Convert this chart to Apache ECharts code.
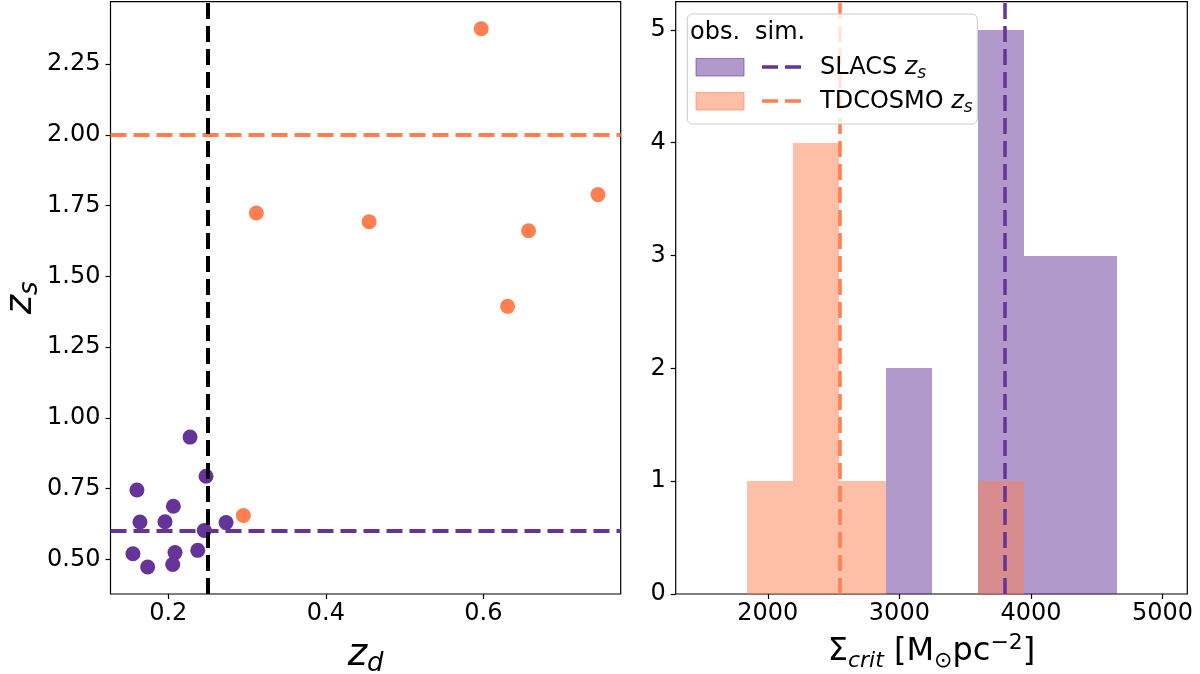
<!DOCTYPE html>
<html><head><meta charset="utf-8">
<script src="https://cdn.jsdelivr.net/npm/echarts@6/dist/echarts.min.js"></script>
<style>html,body{margin:0;padding:0;background:#fff}#c{width:1200px;height:674px}</style>
</head><body><div id="c"></div>
<script>
// ---- data ----
const slacsZd = [0.2276,0.2479,0.1602,0.2064,0.1640,0.1958,0.2457,0.2733,0.1551,0.2085,0.2374,0.1738,0.2056];
const slacsZs = [0.932,0.794,0.745,0.688,0.632,0.633,0.602,0.630,0.520,0.524,0.532,0.473,0.482];
const tdcZd = [0.2953,0.5973,0.3118,0.4550,0.6574,0.6308,0.7456];
const tdcZs = [0.655,2.375,1.724,1.693,1.661,1.394,1.789];
const simSlacsZs = 0.6;
const simTdcZs = 2.0;
const zdCut = 0.25;
const binEdges = [1840, 2192, 2543, 2895, 3247, 3598, 3950, 4302, 4654];
const slacsCounts = [0, 0, 0, 2, 0, 5, 3, 3];
const tdcCounts = [1, 4, 1, 0, 0, 1, 0, 0];
const slacsSigmaSim = 3798;
const tdcSigmaSim = 2548;
const leftXTicks = [0.2, 0.4, 0.6];
const leftYTicks = [0.5, 0.75, 1.0, 1.25, 1.5, 1.75, 2.0, 2.25];
const rightXTicks = [2000, 3000, 4000, 5000];
const rightYTicks = [0, 1, 2, 3, 4, 5];

const PURPLE = '#663399', CORAL = '#ff7f50';
const FONT = 'DejaVu Sans';

const chart = echarts.init(document.getElementById('c'), null, {renderer: 'canvas'});

function zip(a, b) { return a.map((v, i) => [v, b[i]]); }
function histData(counts) { return counts.map((c, i) => [binEdges[i], binEdges[i + 1], c]); }
function histItem(color) {
  return function (params, api) {
    const h = api.value(2);
    if (!h) return null;
    const p0 = api.coord([api.value(0), h]);
    const p1 = api.coord([api.value(1), 0]);
    const x0 = Math.round(p0[0]), x1 = Math.round(p1[0]);
    const y0 = Math.round(p0[1]), y1 = p1[1];
    return {type: 'rect', shape: {x: x0, y: y0, width: x1 - x0, height: y1 - y0},
            style: {fill: color, opacity: 0.5}};
  };
}

const tickStyle = {show: true, inside: false, length: 5, lineStyle: {color: '#000', width: 1.2}};
const labelBase = {color: '#000', fontSize: 24, fontFamily: FONT};
const mathRich = {
  zi: {fontSize: 37, fontStyle: 'italic', fontFamily: FONT, color: '#000', lineHeight: 44},
  sb: {fontSize: 26, fontStyle: 'italic', fontFamily: FONT, color: '#000', lineHeight: 24, verticalAlign: 'bottom'}
};
const sigmaRich = {
  r: {fontSize: 32, fontFamily: FONT, color: '#000', lineHeight: 40},
  si: {fontSize: 22, fontStyle: 'italic', fontFamily: FONT, color: '#000', lineHeight: 22, verticalAlign: 'bottom'},
  sr: {fontSize: 22, fontFamily: FONT, color: '#000', lineHeight: 22, verticalAlign: 'bottom'},
  sp: {fontSize: 22, fontFamily: FONT, color: '#000', lineHeight: 22, verticalAlign: 'top'}
};

const dash = [16, 7];

const option = {
  animation: false,
  backgroundColor: '#fff',
  grid: [
    {left: 110.5, top: 1.7, width: 510.2, height: 592.3, show: true, borderColor: '#000', borderWidth: 1.2,
     backgroundColor: 'transparent', containLabel: false, outerBoundsMode: 'none'},
    {left: 675.7, top: 1.7, width: 511.6, height: 592.3, show: true, borderColor: '#000', borderWidth: 1.2,
     backgroundColor: 'transparent', containLabel: false, outerBoundsMode: 'none'}
  ],
  xAxis: [
    {type: 'value', gridIndex: 0, min: 0.1266, max: 0.7744,
     axisLine: {show: false}, splitLine: {show: false},
     axisTick: Object.assign({customValues: leftXTicks}, tickStyle),
     axisLabel: Object.assign({customValues: leftXTicks, margin: 8, formatter: v => v.toFixed(1)}, labelBase),
     name: '{zi|z}{sb|d}', nameLocation: 'middle', nameGap: 39,
     nameTextStyle: {rich: mathRich}},
    {type: 'value', gridIndex: 1, min: 1300, max: 5188,
     axisLine: {show: false}, splitLine: {show: false},
     axisTick: Object.assign({customValues: rightXTicks}, tickStyle),
     axisLabel: Object.assign({customValues: rightXTicks, margin: 8, formatter: v => String(v)}, labelBase),
     name: '{r|Σ}{si|crit}{r| [M}{sr|⊙}{r|pc}{sp|−2}{r|]}', nameLocation: 'middle', nameGap: 38,
     nameTextStyle: {rich: sigmaRich}}
  ],
  yAxis: [
    {type: 'value', gridIndex: 0, min: 0.3777, max: 2.4705,
     axisLine: {show: false}, splitLine: {show: false},
     axisTick: Object.assign({customValues: leftYTicks}, tickStyle),
     axisLabel: Object.assign({customValues: leftYTicks, margin: 10, formatter: v => v.toFixed(2)}, labelBase),
     name: '{zi|z}{sb|s}', nameLocation: 'middle', nameGap: 58, nameRotate: 90,
     nameTextStyle: {rich: mathRich}},
    {type: 'value', gridIndex: 1, min: 0, max: 5.25,
     axisLine: {show: false}, splitLine: {show: false},
     axisTick: Object.assign({customValues: rightYTicks}, tickStyle),
     axisLabel: Object.assign({customValues: rightYTicks, margin: 10, formatter: v => String(v)}, labelBase)}
  ],
  series: [
    {type: 'scatter', xAxisIndex: 0, yAxisIndex: 0, data: zip(slacsZd, slacsZs),
     symbol: 'circle', symbolSize: 15, itemStyle: {color: PURPLE, opacity: 1}, z: 2,
     markLine: {silent: true, symbol: ['none', 'none'], label: {show: false}, animation: false,
       data: [
         {yAxis: simSlacsZs, lineStyle: {color: PURPLE, width: 4, type: dash}},
         {yAxis: simTdcZs, lineStyle: {color: CORAL, width: 4, type: dash}},
         {xAxis: zdCut, lineStyle: {color: '#000', width: 4, type: dash}}
       ]}},
    {type: 'scatter', xAxisIndex: 0, yAxisIndex: 0, data: zip(tdcZd, tdcZs),
     symbol: 'circle', symbolSize: 15, itemStyle: {color: CORAL, opacity: 1}, z: 2},
    {type: 'custom', xAxisIndex: 1, yAxisIndex: 1, data: histData(slacsCounts),
     encode: {x: [0, 1], y: 2}, renderItem: histItem(PURPLE), z: 2},
    {type: 'custom', xAxisIndex: 1, yAxisIndex: 1, data: histData(tdcCounts),
     encode: {x: [0, 1], y: 2}, renderItem: histItem(CORAL), z: 2,
     markLine: {silent: true, symbol: ['none', 'none'], label: {show: false}, animation: false,
       data: [
         {xAxis: slacsSigmaSim, lineStyle: {color: PURPLE, width: 3.5, type: dash}},
         {xAxis: tdcSigmaSim, lineStyle: {color: CORAL, width: 3.5, type: dash}}
       ]}}
  ],
  graphic: [
    {type: 'rect', z: 100, shape: {x: 687.3, y: 14, width: 290, height: 110, r: 5},
     style: {fill: 'rgba(255,255,255,0.8)', stroke: '#cccccc', lineWidth: 1}},
    {type: 'text', z: 101, x: 690, y: 33, style: {text: 'obs.', font: '24px "DejaVu Sans"', fill: '#000', align: 'left', verticalAlign: 'middle', textAlign: 'left', textVerticalAlign: 'middle'}},
    {type: 'text', z: 101, x: 755, y: 33, style: {text: 'sim.', font: '24px "DejaVu Sans"', fill: '#000', align: 'left', verticalAlign: 'middle', textAlign: 'left', textVerticalAlign: 'middle'}},
    {type: 'rect', z: 101, shape: {x: 696, y: 58.5, width: 48, height: 17.5},
     style: {fill: 'rgba(102,51,153,0.5)', stroke: 'rgba(102,51,153,0.6)', lineWidth: 1}},
    {type: 'rect', z: 101, shape: {x: 696, y: 92.5, width: 48, height: 17.5},
     style: {fill: 'rgba(255,127,80,0.5)', stroke: 'rgba(255,127,80,0.6)', lineWidth: 1}},
    {type: 'line', z: 101, shape: {x1: 762, y1: 67, x2: 808, y2: 67},
     style: {stroke: PURPLE, lineWidth: 3.5, lineDash: dash}},
    {type: 'line', z: 101, shape: {x1: 762, y1: 101, x2: 808, y2: 101},
     style: {stroke: CORAL, lineWidth: 3.5, lineDash: dash}},
    {type: 'text', z: 101, x: 820, y: 68, style: {
      text: '{n|SLACS }{i|z}{s|s}', align: 'left', verticalAlign: 'middle', textAlign: 'left', textVerticalAlign: 'middle',
      rich: {n: {font: '24px "DejaVu Sans"', fill: '#000', lineHeight: 28},
             i: {font: 'italic 24px "DejaVu Sans"', fill: '#000', lineHeight: 28},
             s: {font: 'italic 17px "DejaVu Sans"', fill: '#000', lineHeight: 16, verticalAlign: 'bottom'}}}},
    {type: 'text', z: 101, x: 820, y: 102, style: {
      text: '{n|TDCOSMO }{i|z}{s|s}', align: 'left', verticalAlign: 'middle', textAlign: 'left', textVerticalAlign: 'middle',
      rich: {n: {font: '24px "DejaVu Sans"', fill: '#000', lineHeight: 28},
             i: {font: 'italic 24px "DejaVu Sans"', fill: '#000', lineHeight: 28},
             s: {font: 'italic 17px "DejaVu Sans"', fill: '#000', lineHeight: 16, verticalAlign: 'bottom'}}}}
  ]
};
chart.setOption(option);
</script>
</body></html>
